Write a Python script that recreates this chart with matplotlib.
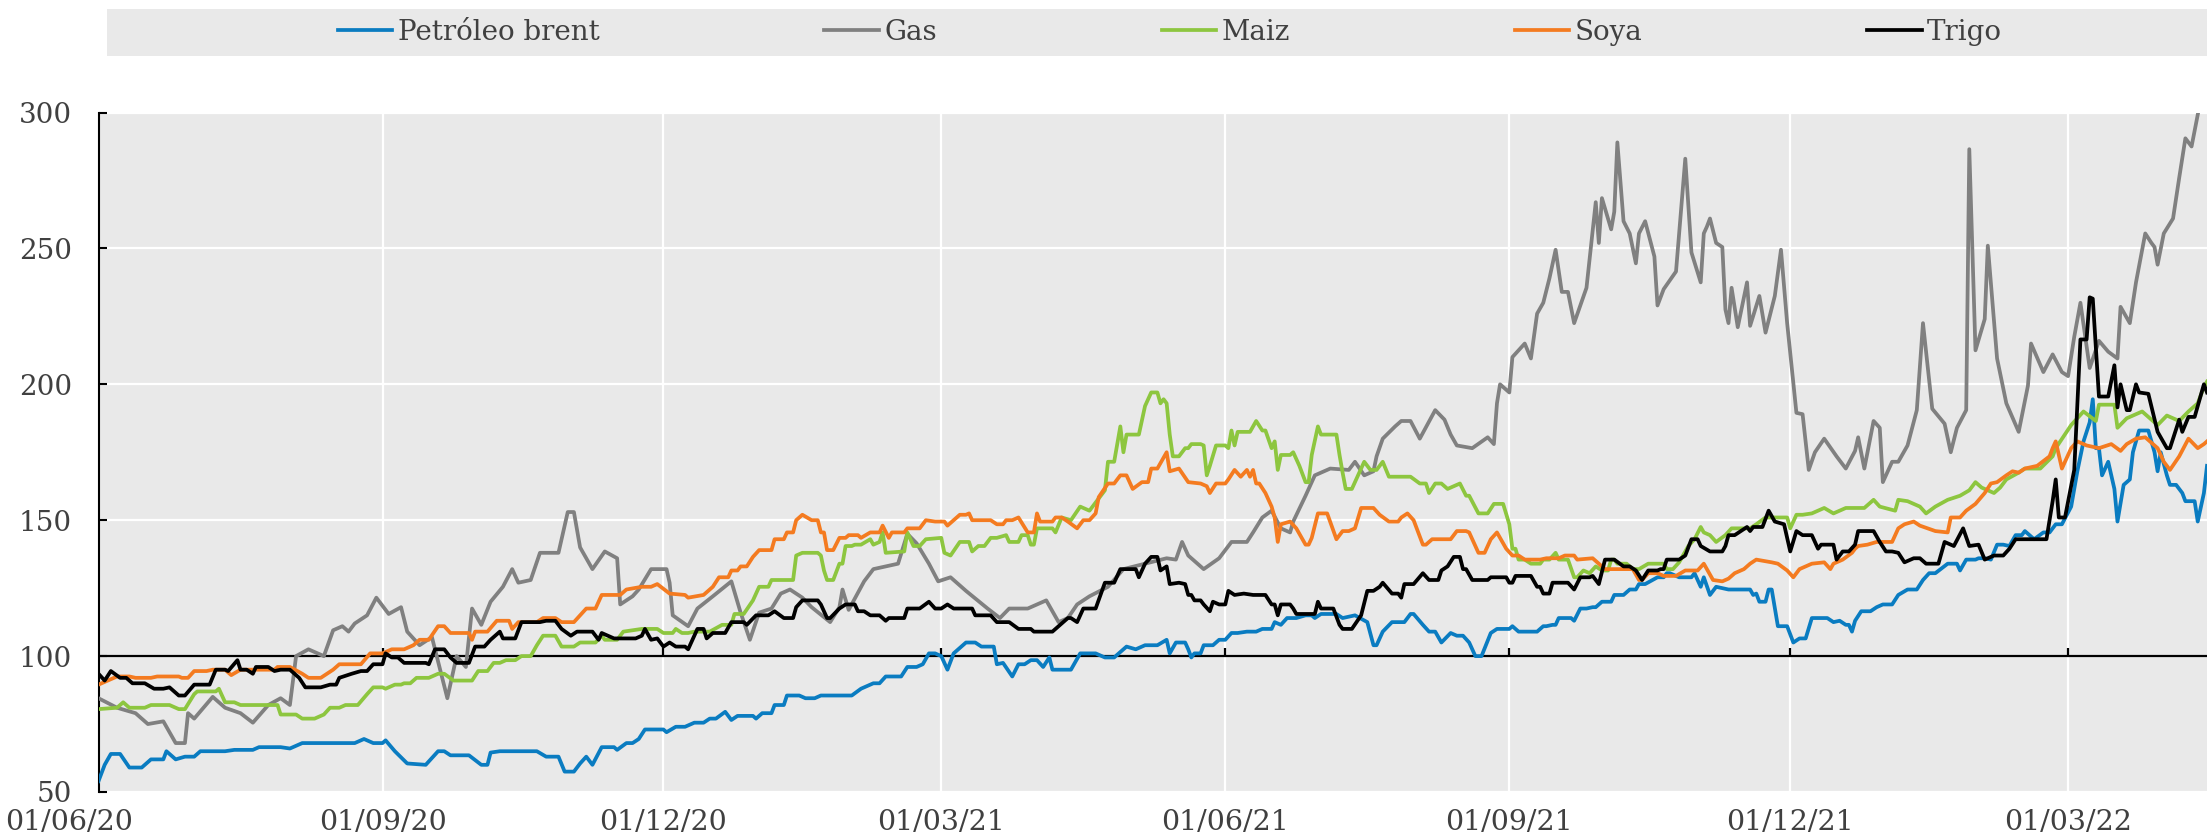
import numpy as np
import matplotlib
matplotlib.use('Agg')
import matplotlib.pyplot as plt
import matplotlib.dates as mdates
from matplotlib.patches import Rectangle

plt.rcParams['font.family'] = 'DejaVu Serif'

# (days since 01/06/20, index value)
brent = [(0, 54), (2, 60), (4, 64), (7, 64), (10, 59), (14, 59), (17, 62), (21, 62), (22, 65), (25, 62),
         (28, 63), (31, 63), (33, 65), (41, 65), (44, 65.5), (50, 65.5), (52, 66.5), (59, 66.5), (62, 66),
         (66, 68), (72, 68), (83, 68), (86, 69.5), (89, 68), (92, 68), (93, 69), (96, 65), (100, 60.5),
         (106, 60), (110, 65), (112, 65), (114, 63.5), (120, 63.5), (124, 60), (126, 60), (127, 64.5),
         (130, 65), (142, 65), (145, 63), (149, 63), (151, 57.5), (154, 57.5), (156, 60.5), (158, 63),
         (160, 60), (163, 66.5), (167, 66.5), (168, 65.5), (171, 68), (173, 68), (175, 69.5), (177, 73),
         (183, 73), (184, 72), (187, 74), (190, 74), (193, 75.5), (196, 75.5), (198, 77), (200, 77),
         (203, 79.5), (205, 76.5), (207, 78), (212, 78), (213, 77), (215, 79), (218, 79), (219, 82),
         (222, 82), (223, 85.5), (227, 85.5), (229, 84.5), (232, 84.5), (234, 85.5), (244, 85.5), (247, 88),
         (251, 90), (253, 90), (255, 92.5), (260, 92.5), (262, 96), (265, 96), (267, 97), (269, 101),
         (271, 101), (273, 100), (275, 95), (277, 101), (281, 105), (284, 105), (286, 103.5), (290, 103.5),
         (291, 97), (293, 97.5), (296, 92.5), (298, 97), (300, 97), (302, 98.5), (304, 98.5), (306, 96),
         (308, 99.5), (309, 95), (315, 95), (318, 101), (323, 101), (326, 99.5), (329, 99.5), (333, 103.5),
         (336, 102.5), (339, 104), (343, 104), (346, 106), (347, 101), (349, 105), (352, 105), (353, 102.5),
         (354, 99.5), (355, 101), (357, 101), (358, 104), (361, 104), (363, 106), (365, 106), (367, 108.5),
         (369, 108.5), (372, 109), (375, 109), (377, 110), (380, 110), (381, 112.5), (383, 111.5), (385, 114),
         (388, 114), (391, 115), (393, 115), (394, 114), (396, 115.5), (401, 115.5), (403, 114), (407, 115),
         (411, 112.5), (413, 104), (414, 104), (416, 109), (419, 112.5), (423, 112.5), (425, 115.5),
         (426, 115.5), (429, 111.5), (431, 109), (433, 109), (435, 105), (438, 108.5), (440, 107.5),
         (442, 107.5), (444, 105), (446, 100), (448, 100), (451, 108.5), (453, 110), (457, 110), (458, 111),
         (460, 109), (466, 109), (468, 111), (469, 111), (471, 111.5), (472, 111.5), (473, 114), (477, 114),
         (478, 113), (480, 117.5), (482, 117.5), (484, 118), (485, 118), (487, 120), (490, 120), (491, 122.5),
         (494, 122.5), (496, 124.5), (498, 124.5), (499, 126.5), (501, 126.5), (505, 129), (507, 129),
         (508, 130.5), (509, 130.5), (512, 129), (516, 129), (517, 130.5), (519, 125.5), (520, 129),
         (522, 122.5), (524, 125.5), (528, 124.5), (535, 124.5), (536, 122.5), (537, 123), (538, 120),
         (540, 120), (541, 124.5), (542, 124.5), (544, 111), (547, 111), (549, 105), (551, 106.5),
         (553, 106.5), (555, 114), (560, 114), (562, 112.5), (564, 113), (566, 111.5), (567, 111.5),
         (568, 109), (569, 113), (571, 116.5), (574, 116.5), (576, 118), (578, 119), (581, 119), (583, 122.5),
         (586, 124.5), (589, 124.5), (591, 128), (593, 130.5), (595, 130.5), (599, 134), (602, 134),
         (603, 131.5), (605, 135.5), (608, 135.5), (609, 136), (611, 136), (613, 135.5), (615, 141),
         (617, 141), (619, 140.5), (621, 144.5), (623, 144.5), (624, 146), (627, 143), (630, 145.5),
         (632, 145.5), (634, 148.5), (636, 148.5), (639, 155), (641, 168), (643, 179), (645, 186),
         (646, 194.5), (647, 176.5), (648, 176.5), (649, 166.5), (651, 171.5), (653, 161.5), (654, 149.5),
         (656, 163), (658, 165), (659, 175), (661, 183), (664, 183), (666, 175), (667, 168), (668, 175),
         (670, 166.5), (671, 163), (673, 163), (675, 160), (676, 157), (679, 157), (680, 149.5), (682, 160),
         (683, 170)]

gas = [(0, 84.5), (6, 81), (12, 79), (16, 75), (21, 76), (25, 68), (28, 68), (29, 79), (31, 77), (37, 85),
       (41, 81), (46, 79), (50, 75.5), (55, 82), (59, 84.5), (62, 82), (64, 100), (68, 102.5), (73, 100),
       (76, 109.5), (79, 111), (81, 109), (83, 112), (87, 115), (90, 121.5), (94, 115.5), (98, 118),
       (100, 109), (104, 104), (108, 107), (113, 84.5), (116, 100), (119, 96), (121, 117.5), (124, 111.5),
       (127, 120), (131, 125.5), (134, 132), (136, 127), (140, 128), (143, 138), (149, 138), (152, 153),
       (154, 153), (156, 140), (160, 132), (164, 138.5), (168, 136), (169, 119), (173, 122), (175, 124.5),
       (179, 132), (184, 132), (185, 127), (186, 115), (191, 111), (194, 117.5), (199, 122), (205, 127.5),
       (208, 116), (211, 106), (214, 116), (218, 117.5), (221, 123), (224, 124.5), (228, 121.5), (231, 118),
       (237, 112.5), (240, 118), (241, 124.5), (243, 117), (248, 127.5), (251, 132), (259, 134), (262, 145),
       (265, 141.5), (269, 134), (272, 127.5), (276, 129), (281, 124), (288, 117.5), (292, 114),
       (295, 117.5), (301, 117.5), (307, 120.5), (311, 112.5), (314, 114), (317, 119), (321, 122),
       (327, 125.5), (332, 132), (339, 134), (346, 136), (349, 135.5), (351, 142), (353, 137), (356, 134),
       (358, 132), (363, 136), (367, 142), (372, 142), (374, 145.5), (377, 151), (380, 153.5), (383, 147),
       (386, 145.5), (387, 149.5), (391, 159), (394, 166.5), (399, 169), (405, 168.5), (407, 171.5),
       (410, 166.5), (413, 168), (414, 173.5), (416, 180), (420, 184.5), (422, 186.5), (425, 186.5),
       (428, 180), (433, 190.5), (436, 187), (438, 181.5), (440, 177.5), (445, 176.5), (450, 180.5),
       (452, 178), (453, 193), (454, 200), (457, 197), (458, 210), (462, 215), (464, 209.5), (466, 226),
       (468, 230), (470, 239), (472, 249.5), (474, 234), (476, 234), (478, 222.5), (482, 235.5), (485, 267),
       (486, 252), (487, 268.5), (490, 257), (491, 263.5), (492, 289), (494, 260), (496, 255.5),
       (498, 244.5), (499, 255.5), (501, 260), (504, 247), (505, 229), (507, 235), (511, 241.5), (513, 269),
       (514, 283), (516, 248.5), (519, 237.5), (520, 255.5), (521, 258), (522, 261), (524, 252),
       (526, 250.5), (527, 227.5), (528, 222.5), (529, 235.5), (531, 221), (534, 237.5), (535, 221.5),
       (538, 232.5), (540, 219), (543, 232.5), (545, 249.5), (547, 222.5), (550, 189.5), (552, 189),
       (554, 168.5), (556, 175), (559, 180), (563, 173.5), (566, 169), (569, 175.5), (570, 180.5), (572, 169),
       (575, 186.5), (577, 184), (578, 164), (581, 171.5), (583, 171.5), (586, 177.5), (589, 190.5),
       (591, 222.5), (594, 191), (598, 185.5), (600, 175), (602, 184), (605, 190.5), (606, 286.5),
       (608, 212.5), (611, 224), (612, 251), (615, 209.5), (618, 193), (622, 182.5), (625, 199.5), (626, 215),
       (630, 204.5), (633, 211), (636, 204.5), (638, 203), (640, 217.5), (642, 230), (645, 206), (648, 216),
       (651, 212), (654, 209.5), (655, 228.5), (658, 222.5), (660, 237.5), (663, 255.5), (665, 252),
       (666, 250.5), (667, 244), (669, 255.5), (672, 261), (674, 276), (676, 290.5), (678, 287.5), (681, 305),
       (683, 320)]

maiz = [(0, 80.5), (6, 81), (8, 83), (10, 81), (15, 81), (17, 82), (23, 82), (26, 80.5), (28, 80.5), (31, 86),
        (32, 87), (38, 87), (39, 88), (41, 83), (44, 83), (46, 82), (58, 82), (59, 78.5), (64, 78.5), (66, 77),
        (70, 77), (73, 78.5), (75, 81), (78, 81), (80, 82), (84, 82), (87, 86), (89, 88.5), (92, 88.5),
        (93, 88), (96, 89.5), (98, 89.5), (99, 90), (101, 90), (103, 92), (107, 92), (110, 93.5), (112, 93.5),
        (115, 91), (121, 91), (123, 94.5), (126, 94.5), (128, 97.5), (130, 97.5), (132, 98.5), (135, 98.5),
        (137, 100), (140, 100), (142, 104), (144, 107.5), (148, 107.5), (150, 103.5), (154, 103.5), (156, 105),
        (161, 105), (163, 107.5), (164, 106), (168, 106), (170, 109), (176, 110), (181, 110), (183, 108.5),
        (186, 108.5), (187, 110), (189, 108.5), (191, 108.5), (193, 109), (198, 109), (202, 111.5),
        (205, 111.5), (206, 115.5), (209, 115.5), (212, 120.5), (214, 125.5), (217, 125.5), (218, 128),
        (225, 128), (226, 137), (228, 138), (233, 138), (234, 137), (235, 131.5), (236, 128), (238, 128),
        (240, 134), (241, 134), (242, 140.5), (244, 140.5), (245, 141), (247, 141), (250, 143), (251, 141),
        (253, 142), (254, 145.5), (255, 138), (261, 138.5), (262, 145.5), (264, 140.5), (266, 140.5),
        (268, 143), (273, 143.5), (274, 138), (276, 137), (279, 142), (282, 142), (283, 138.5), (285, 140.5),
        (287, 140.5), (289, 143.5), (291, 143.5), (294, 144.5), (295, 142), (298, 142), (299, 144.5),
        (301, 144.5), (302, 141), (303, 141), (304, 147), (309, 147), (310, 145.5), (312, 151), (315, 150),
        (318, 155), (321, 153.5), (326, 161), (327, 171.5), (329, 171.5), (331, 184.5), (332, 175),
        (333, 181.5), (337, 181.5), (339, 192), (341, 197), (343, 197), (344, 193), (345, 194.5), (346, 193),
        (347, 181.5), (348, 173.5), (350, 173.5), (352, 176.5), (353, 176.5), (354, 178), (357, 178),
        (358, 177.5), (359, 166.5), (360, 170), (362, 177.5), (365, 177.5), (366, 176.5), (367, 183),
        (368, 177.5), (369, 182.5), (373, 182.5), (375, 186.5), (377, 183), (378, 183), (380, 176.5),
        (381, 179), (382, 168.5), (383, 174), (386, 174), (387, 175), (389, 170), (391, 164), (392, 164),
        (393, 174), (395, 184.5), (396, 181.5), (401, 181.5), (402, 174), (403, 167.5), (404, 161.5),
        (406, 161.5), (408, 166.5), (410, 171.5), (412, 168.5), (414, 168.5), (416, 171.5), (418, 166),
        (425, 166), (428, 163.5), (430, 163.5), (431, 160), (433, 163.5), (435, 163.5), (437, 161.5),
        (441, 163.5), (443, 159), (444, 159), (447, 152.5), (450, 152.5), (452, 156), (455, 156), (457, 148.5),
        (458, 139.5), (459, 139.5), (460, 135.5), (462, 135.5), (464, 134), (467, 134), (468, 135.5),
        (470, 135.5), (472, 138), (473, 135.5), (476, 135.5), (478, 129), (479, 129), (481, 131.5),
        (483, 130.5), (485, 133), (487, 131.5), (489, 131.5), (490, 135.5), (491, 135.5), (492, 134),
        (495, 134), (497, 132), (499, 132), (502, 134), (507, 134), (508, 132), (510, 132), (512, 134.5),
        (515, 140.5), (517, 143), (519, 147.5), (520, 145.5), (522, 144.5), (524, 142), (527, 144.5),
        (529, 147), (535, 147), (537, 148.5), (540, 151), (547, 151), (548, 147), (550, 152), (552, 152),
        (555, 152.5), (559, 154.5), (562, 152.5), (566, 154.5), (572, 154.5), (575, 157.5), (577, 155),
        (582, 153.5), (583, 157.5), (586, 157), (590, 155), (592, 152.5), (595, 155), (599, 157.5), (603, 159),
        (606, 161), (608, 164), (610, 162), (614, 160), (616, 162), (618, 165), (622, 167.5), (624, 169),
        (629, 169), (633, 173.5), (634, 176.5), (639, 185), (643, 190), (647, 186.5), (648, 192.5),
        (653, 192.5), (654, 184), (657, 187.5), (662, 190), (667, 185), (670, 188.5), (674, 186.5), (677, 190),
        (680, 193), (682, 199), (683, 201)]

soya = [(0, 89.5), (6, 92.5), (10, 92.5), (12, 92), (17, 92), (19, 92.5), (26, 92.5), (27, 92), (29, 92),
        (31, 94.5), (35, 94.5), (37, 95), (41, 95), (43, 93), (46, 95), (57, 95), (58, 96), (62, 96),
        (66, 93.5), (68, 92), (72, 92), (74, 93.5), (76, 95), (78, 97), (85, 97), (88, 101), (92, 101),
        (95, 102.5), (99, 102.5), (102, 104), (104, 106), (107, 106), (110, 111), (112, 111), (114, 108.5),
        (120, 108.5), (121, 106), (122, 109), (126, 109), (129, 113), (133, 113), (134, 110), (136, 112.5),
        (142, 112.5), (144, 114), (148, 114), (150, 112.5), (154, 112.5), (158, 117.5), (161, 117.5),
        (163, 122.5), (169, 122.5), (171, 124.5), (176, 125.5), (179, 125.5), (181, 126.5), (185, 123),
        (190, 122.5), (191, 121.5), (196, 122.5), (199, 125.5), (201, 129), (204, 129), (205, 131.5),
        (207, 131.5), (208, 133), (210, 133), (212, 136.5), (214, 139), (218, 139), (219, 143), (222, 143),
        (223, 145.5), (225, 145.5), (226, 150), (228, 152), (231, 150), (233, 150), (234, 145.5), (235, 145.5),
        (236, 139), (238, 139), (240, 143.5), (242, 143.5), (243, 144.5), (246, 144.5), (247, 143.5),
        (250, 145.5), (253, 145.5), (254, 148), (256, 143.5), (257, 145.5), (261, 145.5), (262, 147), (266, 147),
        (268, 150), (271, 149.5), (274, 149.5), (275, 148), (277, 150), (279, 152), (281, 152), (282, 152.5),
        (283, 150), (289, 150), (291, 148.5), (293, 148.5), (294, 150), (296, 150), (298, 151), (301, 145.5),
        (303, 145.5), (304, 152.5), (305, 149.5), (309, 149.5), (310, 151), (312, 151), (314, 149.5), (317, 147),
        (319, 150), (321, 150), (323, 152.5), (324, 158.5), (327, 163.5), (329, 163.5), (331, 166.5),
        (333, 166.5), (335, 161.5), (338, 164), (340, 164), (341, 169), (343, 169), (346, 175), (347, 168),
        (350, 169), (353, 164), (357, 163.5), (359, 162.5), (360, 160), (362, 163.5), (365, 163.5), (366, 165),
        (368, 168.5), (370, 166), (372, 168.5), (373, 166), (374, 168.5), (375, 163.5), (376, 163.5),
        (378, 160), (380, 155), (381, 151), (382, 142), (383, 148.5), (386, 149.5), (388, 147), (391, 141),
        (392, 141), (393, 143.5), (395, 152.5), (398, 152.5), (401, 143), (403, 146), (405, 146), (407, 147),
        (409, 154.5), (413, 154.5), (415, 152), (418, 149.5), (421, 149.5), (422, 151), (424, 152.5),
        (426, 150), (429, 141), (430, 141), (432, 143), (438, 143), (440, 146), (443, 146), (444, 145.5),
        (447, 138), (449, 138), (451, 143), (453, 145.5), (456, 139.5), (458, 137), (460, 137), (462, 135.5),
        (467, 135.5), (469, 136), (473, 136), (475, 137), (478, 137), (479, 135.5), (484, 136), (486, 134),
        (488, 132), (497, 132), (499, 128), (500, 128), (502, 130.5), (505, 130.5), (507, 129.5), (511, 129.5),
        (514, 131.5), (518, 131.5), (520, 134), (523, 128), (526, 127.5), (528, 128.5), (530, 130.5),
        (533, 132), (535, 134), (537, 135.5), (542, 134.5), (544, 134), (547, 131.5), (549, 129), (551, 132),
        (555, 134), (559, 134.5), (561, 132), (562, 134), (565, 135.5), (568, 138), (569, 139.5), (570, 140.5),
        (573, 141), (576, 142), (581, 142), (583, 147), (585, 148.5), (588, 149.5), (590, 148), (595, 146),
        (599, 145.5), (600, 151), (603, 151), (605, 153.5), (608, 156), (611, 160), (613, 163.5), (615, 164),
        (618, 166.5), (620, 168), (622, 167.5), (624, 169), (628, 170), (632, 173.5), (633, 176.5), (634, 179),
        (636, 169), (639, 176.5), (641, 179), (644, 177.5), (648, 176.5), (652, 178), (655, 175.5), (657, 178),
        (660, 180), (663, 180.5), (667, 176.5), (669, 171.5), (671, 168.5), (674, 173.5), (677, 180),
        (680, 176.5), (682, 178), (683, 179)]

trigo = [(0, 93.5), (2, 91), (4, 94.5), (7, 92), (9, 92), (11, 90), (15, 90), (18, 88), (21, 88), (23, 88.5),
         (26, 85.5), (28, 85.5), (31, 89.5), (36, 89.5), (38, 95), (41, 95), (42, 94.5), (45, 98.5), (46, 95),
         (48, 95), (50, 93.5), (51, 96), (55, 96), (57, 94.5), (59, 95), (62, 95), (65, 92), (67, 88.5),
         (72, 88.5), (75, 89.5), (77, 89.5), (78, 92), (82, 93.5), (85, 94.5), (87, 94.5), (89, 97), (92, 97),
         (93, 101), (95, 99.5), (97, 99.5), (99, 97.5), (106, 97.5), (107, 97), (109, 102.5), (112, 102.5),
         (114, 99.5), (116, 97.5), (120, 97.5), (122, 103.5), (125, 103.5), (127, 106), (130, 109),
         (131, 106.5), (135, 106.5), (137, 112.5), (143, 112.5), (145, 113), (148, 113), (150, 110),
         (153, 107.5), (155, 109), (160, 109), (162, 106), (163, 108.5), (167, 106.5), (174, 106.5),
         (176, 107.5), (177, 110), (179, 106), (181, 106.5), (183, 103.5), (185, 105), (187, 103.5),
         (190, 103.5), (191, 102.5), (194, 110), (196, 110), (197, 106.5), (199, 108.5), (203, 108.5),
         (205, 112.5), (209, 112.5), (210, 111.5), (213, 115), (217, 115), (219, 116.5), (222, 114), (225, 114),
         (226, 118), (228, 120.5), (233, 120.5), (234, 119), (236, 114), (237, 114), (240, 117.5), (242, 119),
         (245, 119), (246, 116.5), (248, 116.5), (250, 115), (253, 115), (255, 113), (256, 114), (261, 114),
         (262, 117.5), (266, 117.5), (269, 120), (271, 117.5), (273, 117.5), (275, 119), (277, 117.5),
         (283, 117.5), (284, 115), (289, 115), (291, 112.5), (295, 112.5), (298, 110), (302, 110), (303, 109),
         (309, 109), (311, 111), (314, 114), (315, 114), (317, 112.5), (319, 117.5), (323, 117.5), (326, 127),
         (329, 127), (331, 132), (336, 132), (337, 129), (339, 134), (341, 136.5), (343, 136.5), (344, 131.5),
         (346, 133), (347, 126.5), (350, 127), (352, 126.5), (353, 122.5), (354, 122.5), (355, 120.5),
         (357, 120.5), (358, 119), (360, 116.5), (361, 120), (363, 119), (365, 119), (366, 124), (368, 122.5),
         (371, 123), (374, 122.5), (378, 122.5), (380, 119), (381, 119), (382, 115), (383, 119), (386, 119),
         (387, 117.5), (388, 115.5), (394, 115.5), (395, 120), (396, 117.5), (400, 117.5), (402, 111.5),
         (403, 110), (406, 110), (409, 115), (411, 124), (413, 124), (415, 125.5), (416, 127), (419, 123),
         (421, 123), (422, 121.5), (423, 126.5), (426, 126.5), (429, 130.5), (431, 128), (434, 128),
         (435, 131.5), (437, 133), (439, 136.5), (441, 136.5), (442, 132), (443, 132), (445, 128), (450, 128),
         (451, 129), (456, 129), (457, 127), (458, 127), (459, 129.5), (464, 129.5), (466, 125.5), (467, 125.5),
         (468, 123), (470, 123), (471, 127), (476, 127), (478, 124.5), (480, 129), (483, 129), (484, 129.5),
         (486, 126.5), (488, 135.5), (491, 135.5), (494, 133), (496, 133), (498, 131.5), (500, 128),
         (502, 131.5), (505, 131.5), (506, 132), (507, 132), (508, 135.5), (512, 135.5), (514, 137), (516, 143),
         (518, 143), (519, 140.5), (522, 138.5), (526, 138.5), (527, 140.5), (528, 144.5), (530, 144.5),
         (532, 146), (534, 147.5), (535, 146), (536, 147.5), (539, 147.5), (541, 153.5), (543, 149.5),
         (546, 148.5), (548, 138.5), (550, 146), (552, 144.5), (555, 144.5), (557, 139.5), (558, 141),
         (562, 141), (563, 135.5), (565, 138.5), (567, 138.5), (569, 141), (570, 146), (575, 146), (577, 142),
         (579, 138.5), (581, 138.5), (583, 138), (585, 134.5), (588, 136), (590, 136), (592, 134), (596, 134),
         (598, 142), (601, 140.5), (604, 147), (606, 140.5), (609, 141), (611, 135.5), (614, 137), (617, 137),
         (619, 139.5), (621, 143), (631, 143), (633, 157), (634, 165), (635, 151), (637, 151), (640, 168.5),
         (642, 216.5), (644, 216.5), (645, 232), (646, 231.5), (648, 195.5), (651, 195.5), (653, 207),
         (654, 191.5), (655, 200), (657, 190.5), (658, 190.5), (660, 200), (661, 197), (664, 196.5),
         (667, 182.5), (670, 176.5), (671, 176.5), (674, 187), (675, 182.5), (677, 188), (679, 188), (682, 200),
         (683, 197)]

names = ['Petróleo brent', 'Gas', 'Maiz', 'Soya', 'Trigo']
colors = ['#0A7CC1', '#808080', '#8DC63F', '#F47B20', '#000000']
tick_dates = ['2020-06-01', '2020-09-01', '2020-12-01', '2021-03-01', '2021-06-01',
              '2021-09-01', '2021-12-01', '2022-03-01']
tick_labels = ['01/06/20', '01/09/20', '01/12/20', '01/03/21', '01/06/21',
               '01/09/21', '01/12/21', '01/03/22']
yticks = [50, 100, 150, 200, 250, 300]

start = np.datetime64('2020-06-01')
text_color = '#404040'

fig = plt.figure(figsize=(22.07, 8.39), dpi=100)
ax = fig.add_axes([98.5 / 2207, 47 / 839, 1 - 98.5 / 2207, 679.5 / 839])
ax.set_facecolor('#E9E9E9')

for pts, name, c in zip([brent, gas, maiz, soya, trigo], names, colors):
    d, v = zip(*pts)
    x = mdates.date2num(start + np.array(d).astype('timedelta64[D]'))
    ax.plot(x, v, color=c, lw=2.7, label=name, zorder=3)

ticks = mdates.date2num(np.array(tick_dates, dtype='datetime64[D]'))

# axis line at 100 with its small tick marks
ax.axhline(100, color='black', lw=1.6, zorder=2)
ax.vlines(ticks[1:], 100, 103, color='black', lw=1.6, zorder=2)

ax.set_xlim(mdates.date2num(start), mdates.date2num(np.datetime64('2022-04-15')))
ax.set_ylim(50, 300)
ax.set_xticks(ticks)
ax.set_xticklabels([])
ax.set_yticks(yticks)
ax.grid(True, color='white', lw=1.6)
ax.set_axisbelow(True)

ax.tick_params(axis='x', length=0)
ax.tick_params(axis='y', direction='in', length=6, width=1.5, pad=19,
               labelsize=20, labelcolor=text_color)
for s in ['top', 'right', 'bottom']:
    ax.spines[s].set_visible(False)
ax.spines['left'].set_color('black')
ax.spines['left'].set_linewidth(1.5)

for i, (t, lab) in enumerate(zip(ticks, tick_labels)):
    dx = -21 if i == 0 else 0
    ax.annotate(lab, xy=(t, 0), xycoords=('data', 'axes fraction'),
                xytext=(dx, -22), textcoords='offset points',
                ha='center', va='center', fontsize=20.5, color=text_color,
                annotation_clip=False)

# legend band
fig.add_artist(Rectangle((107 / 2207, 1 - 56 / 839), 1 - 107 / 2207, 47 / 839,
                         transform=fig.transFigure, facecolor='#E9E9E9',
                         edgecolor='none', zorder=0))
fig.legend(loc='center', bbox_to_anchor=(1170 / 2207, 1 - 32.5 / 839), ncol=5,
           frameon=False, fontsize=20, handlelength=1.95, handletextpad=0.2,
           columnspacing=8.1, labelcolor=text_color, borderpad=0, borderaxespad=0)

fig.savefig('out.png', dpi=100)
